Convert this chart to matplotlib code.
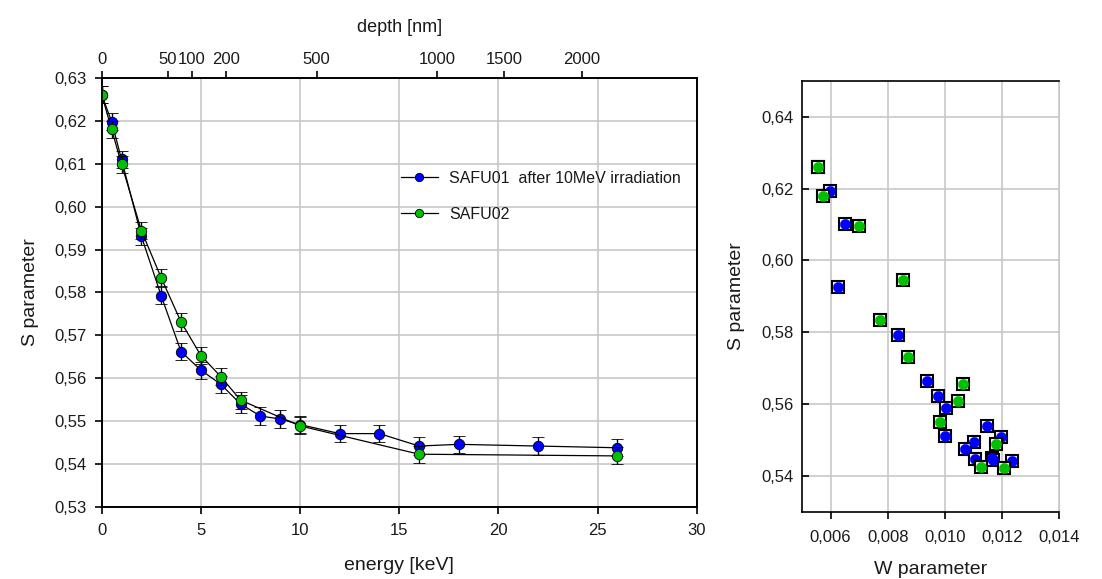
import matplotlib
matplotlib.use("Agg")
import matplotlib.pyplot as plt
from matplotlib.ticker import FixedLocator, FuncFormatter
from matplotlib.lines import Line2D

plt.rcParams['font.family'] = ['Liberation Sans', 'DejaVu Sans']

# ---------------- data (left: S vs energy) ----------------
energy_1 = [0, 0.5, 1, 2, 3, 4, 5, 6, 7, 8, 9, 10, 12, 14, 16, 18, 22, 26]
s_safu01 = [0.6261, 0.6198, 0.6110, 0.5931, 0.5792, 0.5662, 0.5619, 0.5586,
            0.5540, 0.5512, 0.5505, 0.5492, 0.5471, 0.5471, 0.5442, 0.5446,
            0.5442, 0.5438]
energy_2 = [0, 0.5, 1, 2, 3, 4, 5, 6, 7, 10, 16, 26]
s_safu02 = [0.6261, 0.6180, 0.6099, 0.5944, 0.5834, 0.5731, 0.5653, 0.5604,
            0.5549, 0.5489, 0.5423, 0.5419]
s_err = 0.002

# top axis: depth ticks and the energies where they sit
depth_labels = ['0', '50', '100', '200', '500', '1000', '1500', '2000']
depth_energy = [0, 3.33, 4.55, 6.27, 10.84, 16.92, 20.30, 24.22]

# ---------------- data (right: S vs W) ----------------
w_safu01 = [0.00557, 0.00597, 0.00650, 0.00627, 0.00836, 0.00936, 0.00977,
            0.01005, 0.01147, 0.00999, 0.01197, 0.01101, 0.01072, 0.01104,
            0.01165, 0.01170, 0.01236]
sw_safu01 = [0.6261, 0.6193, 0.6102, 0.5927, 0.5793, 0.5665, 0.5622,
             0.5588, 0.5540, 0.5512, 0.5507, 0.5495, 0.5474, 0.5446,
             0.5449, 0.5443, 0.5441]
w_safu02 = [0.00557, 0.00572, 0.00699, 0.00853, 0.00773, 0.00872, 0.01063,
            0.01046, 0.00983, 0.01180, 0.01127, 0.01207]
sw_safu02 = [0.6261, 0.6179, 0.6097, 0.5945, 0.5835, 0.5732, 0.5656,
             0.5608, 0.5551, 0.5490, 0.5425, 0.5423]

BLUE = '#0000ff'
GREEN = '#00c000'
GRID = '#c8c8c8'
TXT = '#1a1a1a'
TICK_FS = 12
LAB_FS = 14

def comma(fmt):
    return FuncFormatter(lambda v, p: (fmt % v).replace('.', ','))

W_PX, H_PX = 1102, 579
fig = plt.figure(figsize=(W_PX / 100, H_PX / 100), dpi=100)

# ================= left axes =================
ax = fig.add_axes([0.0923, 0.1244, 0.540, 0.741])
ax.set_xlim(0, 30)
ax.set_ylim(0.53, 0.63)
ax.set_xticks([0, 5, 10, 15, 20, 25, 30])
ax.set_yticks([0.53 + 0.01 * i for i in range(11)])
ax.yaxis.set_major_formatter(comma('%.2f'))
ax.grid(True, color=GRID, lw=1.2, zorder=0)
ax.set_axisbelow(True)
for sp in ax.spines.values():
    sp.set_linewidth(1.2)
    sp.set_color('black')
ax.tick_params(axis='x', direction='out', length=5, width=1.2,
               labelsize=TICK_FS, labelcolor=TXT, pad=6.5)
ax.tick_params(axis='y', direction='out', length=5, width=1.2,
               labelsize=TICK_FS, labelcolor=TXT, pad=6)

ax.errorbar(energy_1, s_safu01, yerr=s_err, fmt='-o', color='black', lw=0.9,
            ecolor='black', elinewidth=1.0, capsize=4.5, capthick=1.2,
            mfc=BLUE, mec='black', mew=0.6, ms=7.5, zorder=3)
ax.errorbar(energy_2, s_safu02, yerr=s_err, fmt='-o', color='black', lw=0.9,
            ecolor='black', elinewidth=1.0, capsize=4.5, capthick=1.2,
            mfc=GREEN, mec='black', mew=0.6, ms=7.5, zorder=4)

ax.set_xlabel('energy [keV]', fontsize=LAB_FS, color=TXT, labelpad=14)
ax.set_ylabel('S parameter', fontsize=LAB_FS, color=TXT, labelpad=11)

# legend
h1 = Line2D([], [], color='black', lw=0.9, marker='o', mfc=BLUE, mec='black',
            mew=0.6, ms=6)
h2 = Line2D([], [], color='black', lw=0.9, marker='o', mfc=GREEN, mec='black',
            mew=0.6, ms=6)
leg = ax.legend([h1, h2], ['SAFU01  after 10MeV irradiation', 'SAFU02'],
                loc='upper left', bbox_to_anchor=(0.503, 0.783), frameon=False,
                fontsize=11.5, handlelength=2.3, handletextpad=0.7,
                labelspacing=1.3, borderpad=0, borderaxespad=0)
for t in leg.get_texts():
    t.set_color(TXT)

# top axis (depth)
top = ax.twiny()
top.set_xlim(ax.get_xlim())
top.xaxis.set_major_locator(FixedLocator(depth_energy))
top.set_xticklabels(depth_labels)
top.tick_params(direction='out', length=5, width=1.2, labelsize=TICK_FS,
                labelcolor=TXT, pad=3)
for sp in top.spines.values():
    sp.set_linewidth(1.2)
top.set_xlabel('depth [nm]', fontsize=13, color=TXT, labelpad=14)

# ================= right axes =================
bx = fig.add_axes([0.7278, 0.1162, 0.2332, 0.7439])
bx.set_xlim(0.005, 0.014)
bx.set_ylim(0.53, 0.65)
bx.set_xticks([0.006, 0.008, 0.010, 0.012, 0.014])
bx.set_yticks([0.54, 0.56, 0.58, 0.60, 0.62, 0.64])
bx.xaxis.set_major_formatter(comma('%.3f'))
bx.yaxis.set_major_formatter(comma('%.2f'))
bx.grid(True, color=GRID, lw=1.2, zorder=0)
bx.set_axisbelow(True)
bx.spines['right'].set_color(GRID)
bx.spines['left'].set_linewidth(1.2)
bx.spines['bottom'].set_linewidth(1.2)
bx.spines['top'].set_linewidth(1.2)
bx.tick_params(axis='x', direction='out', length=5, width=1.2,
               labelsize=TICK_FS, labelcolor=TXT, pad=8)
bx.tick_params(axis='y', direction='in', length=5, width=1.2,
               labelsize=TICK_FS, labelcolor=TXT, pad=6)

for w, s, c, z in ((w_safu01, sw_safu01, BLUE, 3), (w_safu02, sw_safu02, GREEN, 5)):
    bx.plot(w, s, linestyle='none', marker='s', ms=8.5, mfc='white',
            mec='black', mew=1.5, zorder=z)
    bx.plot(w, s, linestyle='none', marker='o', ms=7.5, mfc=c,
            mec=c, mew=0.3, zorder=z + 0.5)

bx.set_xlabel('W parameter', fontsize=LAB_FS, color=TXT, labelpad=12)
bx.set_ylabel('S parameter', fontsize=LAB_FS, color=TXT, labelpad=12)

fig.savefig('out.png', dpi=100)
